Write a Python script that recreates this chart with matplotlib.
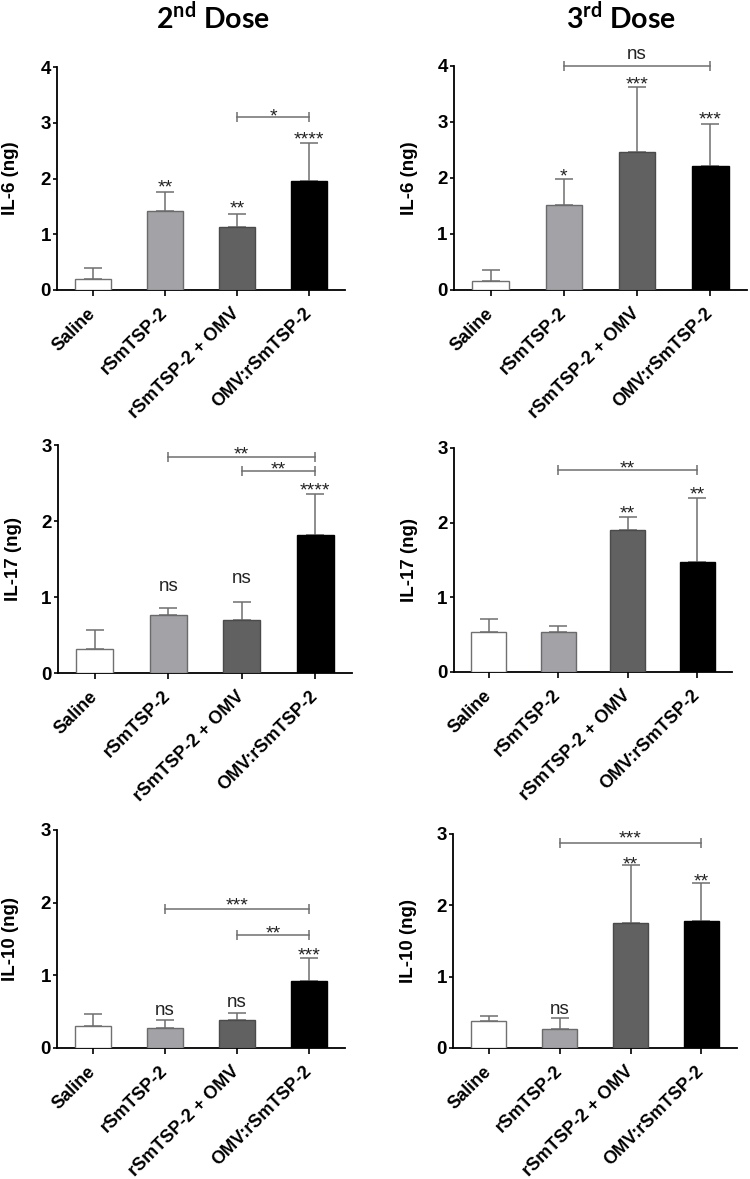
import matplotlib
matplotlib.use("Agg")
import matplotlib.pyplot as plt
from matplotlib.transforms import offset_copy

# ---------------- data ----------------
groups = ["Saline", "rSmTSP-2", "rSmTSP-2 + OMV", "OMV:rSmTSP-2"]
bar_colors = ["#ffffff", "#a3a3a7", "#616161", "#000000"]
edge_colors = ["#707070", "#6a6a6a", "#4a4a4a", "#000000"]

ylabels = ["IL-6 (ng)", "IL-6 (ng)", "IL-17 (ng)", "IL-17 (ng)", "IL-10 (ng)", "IL-10 (ng)"]
ymax = [4, 4, 3, 3, 3, 3]

il6_dose2 = [0.20, 1.42, 1.13, 1.95]
il6_dose2_sem = [0.19, 0.33, 0.24, 0.68]
il6_dose3 = [0.16, 1.52, 2.47, 2.22]
il6_dose3_sem = [0.19, 0.46, 1.15, 0.75]
il17_dose2 = [0.32, 0.76, 0.70, 1.82]
il17_dose2_sem = [0.24, 0.09, 0.24, 0.54]
il17_dose3 = [0.53, 0.53, 1.90, 1.47]
il17_dose3_sem = [0.18, 0.09, 0.18, 0.86]
il10_dose2 = [0.30, 0.275, 0.39, 0.92]
il10_dose2_sem = [0.17, 0.105, 0.09, 0.32]
il10_dose3 = [0.38, 0.27, 1.75, 1.78]
il10_dose3_sem = [0.07, 0.15, 0.82, 0.53]

# significance over bars: (bar index, label, label centre height)
sig_il6_dose2 = [(1, "**", 1.91), (2, "**", 1.54), (3, "****", 2.78)]
sig_il6_dose3 = [(1, "*", 2.11), (2, "***", 3.75), (3, "***", 3.125)]
sig_il17_dose2 = [(1, "ns", 1.14), (2, "ns", 1.24), (3, "****", 2.46)]
sig_il17_dose3 = [(2, "**", 2.18), (3, "**", 2.43)]
sig_il10_dose2 = [(1, "ns", 0.52), (2, "ns", 0.62), (3, "***", 1.34)]
sig_il10_dose3 = [(1, "ns", 0.54), (2, "**", 2.64), (3, "**", 2.39)]

# comparison brackets: (from bar, to bar, line height, label, label centre height)
br_il6_dose2 = [(2, 3, 3.10, "*", 3.19)]
br_il6_dose3 = [(1, 3, 4.00, "ns", 4.20)]
br_il17_dose2 = [(1, 3, 2.84, "**", 2.93), (2, 3, 2.66, "**", 2.74)]
br_il17_dose3 = [(1, 3, 2.70, "**", 2.78)]
br_il10_dose2 = [(1, 3, 1.91, "***", 2.02), (2, 3, 1.56, "**", 1.64)]
br_il10_dose3 = [(1, 3, 2.88, "***", 3.00)]

panels = [
    (il6_dose2, il6_dose2_sem, sig_il6_dose2, br_il6_dose2),
    (il6_dose3, il6_dose3_sem, sig_il6_dose3, br_il6_dose3),
    (il17_dose2, il17_dose2_sem, sig_il17_dose2, br_il17_dose2),
    (il17_dose3, il17_dose3_sem, sig_il17_dose3, br_il17_dose3),
    (il10_dose2, il10_dose2_sem, sig_il10_dose2, br_il10_dose2),
    (il10_dose3, il10_dose3_sem, sig_il10_dose3, br_il10_dose3),
]

# ---------------- layout ----------------
W, H = 750, 1179
fig = plt.figure(figsize=(W / 100, H / 100), dpi=100)

# axes rectangles in pixels: left, right, top, bottom
rects = [
    (57, 345, 67, 290),
    (454, 747, 66, 290),
    (58, 352, 445, 673),
    (454, 732, 448, 672),
    (57, 345, 830, 1048),
    (453, 737, 834, 1048),
]
# right edge (pixels) of the rotated y label
ylabel_x = [19, 418, 22, 418, 19, 417]

FONT = "Liberation Sans"
gray_line = "#6f6f6f"

for i, ((vals, sems, sigs, brs), (l, r, t, b)) in enumerate(zip(panels, rects)):
    ax = fig.add_axes([l / W, 1 - b / H, (r - l) / W, (b - t) / H])
    x = list(range(len(groups)))
    ax.bar(x, vals, width=0.5, color=bar_colors, edgecolor=edge_colors,
           linewidth=1.0, zorder=3)
    ax.errorbar(x, vals, yerr=[[0] * len(sems), sems], fmt="none",
                ecolor=gray_line, elinewidth=1.1, capsize=6.5, capthick=1.1,
                zorder=2)
    ax.set_xlim(-0.5, 3.5)
    ax.set_ylim(0, ymax[i])
    ax.set_yticks(range(0, ymax[i] + 1))
    ax.set_xticks(x)
    ax.set_xticklabels(groups, rotation=45, ha="right", va="center",
                       rotation_mode="anchor", fontsize=13, fontweight="bold",
                       family=FONT)
    for lab in ax.get_yticklabels():
        lab.set_fontsize(13.5)
        lab.set_fontweight("bold")
        lab.set_family(FONT)
    ax.tick_params(axis="x", direction="out", length=4, width=1.2, pad=11)
    ax.tick_params(axis="y", direction="out", length=3, width=1.2, pad=1.5)
    for s in ["top", "right"]:
        ax.spines[s].set_visible(False)
    for s in ["left", "bottom"]:
        ax.spines[s].set_linewidth(1.3)
    ax.set_ylabel(ylabels[i], fontsize=13.5, fontweight="bold", family=FONT)
    ax.yaxis.set_label_coords(ylabel_x[i] / W, 1 - (t + b) / 2 / H,
                              transform=fig.transFigure)

    star_tr = offset_copy(ax.transData, fig=fig, x=0, y=-3.5, units="points")
    for (bi, lab, yc) in sigs:
        is_star = lab.startswith("*")
        ax.text(bi, yc, lab, ha="center", va="center",
                fontsize=14 if is_star else 13.5, family=FONT,
                color="#222222", transform=star_tr if is_star else ax.transData,
                clip_on=False)
    for (b0, b1, yl, lab, yc) in brs:
        ax.plot([b0, b1], [yl, yl], color=gray_line, lw=1.1, clip_on=False,
                marker="|", markersize=7, markeredgewidth=1.1, zorder=4)
        is_star = lab.startswith("*")
        ax.text((b0 + b1) / 2, yc, lab, ha="center", va="center",
                fontsize=14 if is_star else 13.5, family=FONT,
                color="#222222", transform=star_tr if is_star else ax.transData,
                clip_on=False)

plt.rcParams["mathtext.fontset"] = "custom"
plt.rcParams["mathtext.bf"] = "Lato:bold"
plt.rcParams["mathtext.rm"] = "Lato:bold"
fig.text(213 / W, 1 - 17 / H, r"2$^{\mathbf{nd}}$ Dose", ha="center", va="center",
         fontsize=20.5, fontweight="bold", family="Lato")
fig.text(621 / W, 1 - 17 / H, r"3$^{\mathbf{rd}}$ Dose", ha="center", va="center",
         fontsize=20.5, fontweight="bold", family="Lato")

fig.savefig("out.png", dpi=100)
